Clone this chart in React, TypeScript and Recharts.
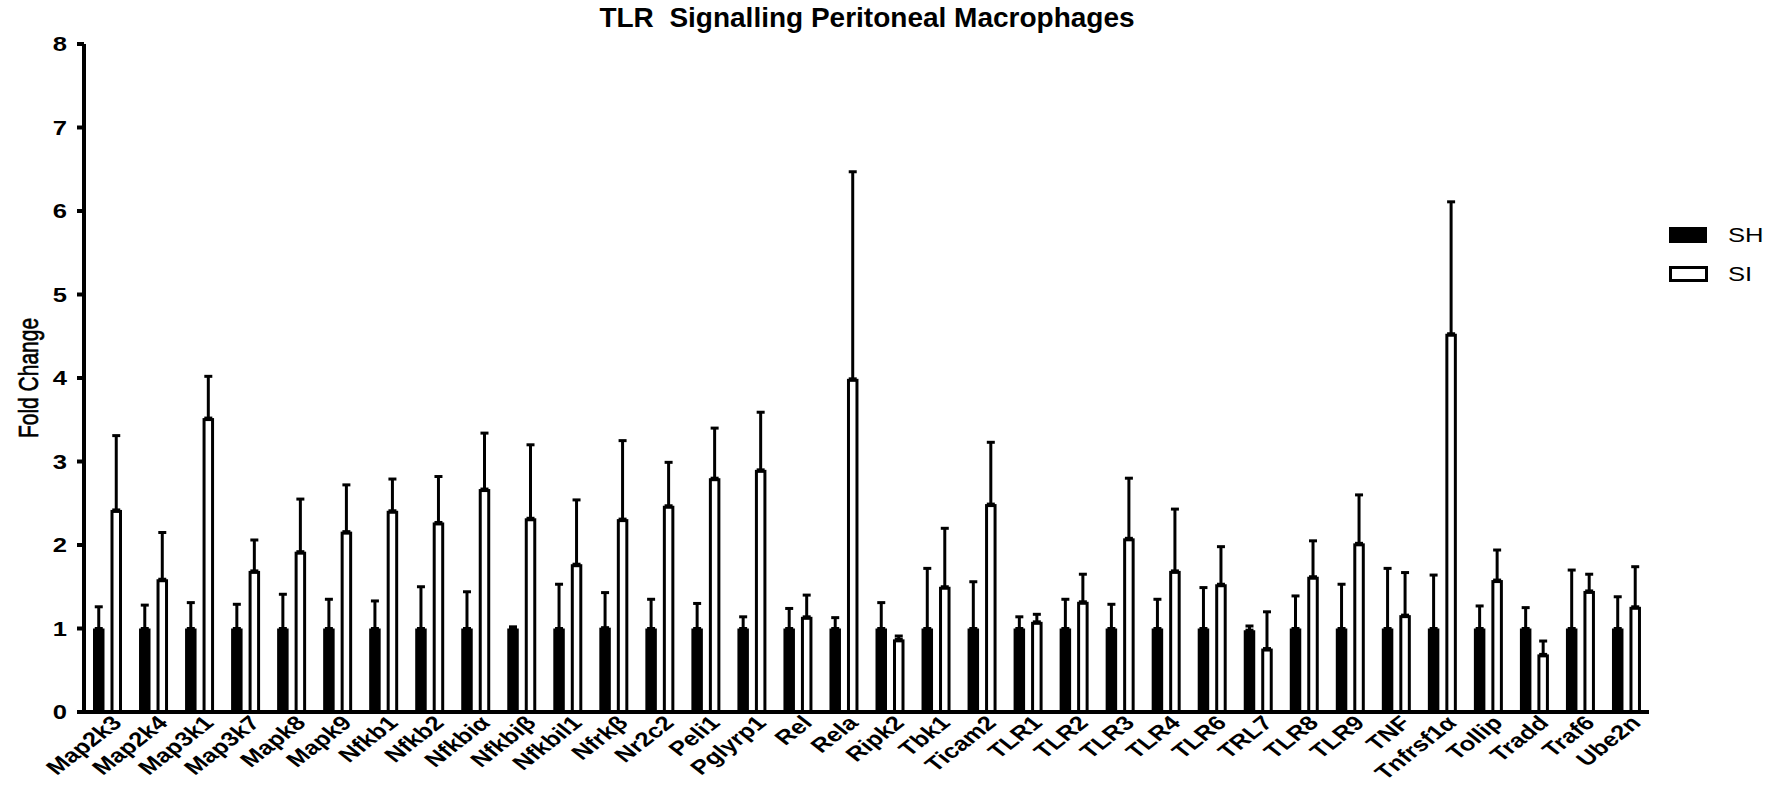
import React from 'react';
import { BarChart, Bar, XAxis, YAxis, ErrorBar } from 'recharts';

// fold change of each gene, SH (black) against SI (white), with the top of each SEM whisker
const genes = [
  'Map2k3', 'Map2k4', 'Map3k1', 'Map3k7', 'Mapk8', 'Mapk9', 'Nfkb1', 'Nfkb2', 'Nfkbiα', 'Nfkbiβ',
  'Nfkbil1', 'Nfrkβ', 'Nr2c2', 'Peli1', 'Pglyrp1', 'Rel', 'Rela', 'Ripk2', 'Tbk1', 'Ticam2',
  'TLR1', 'TLR2', 'TLR3', 'TLR4', 'TLR6', 'TRL7', 'TLR8', 'TLR9', 'TNF', 'Tnfrsf1α',
  'Tollip', 'Tradd', 'Traf6', 'Ube2n'
];
const shMean = [
  1, 1, 1, 1, 1, 1, 1, 1, 1, 1,
  1, 1.01, 1, 1, 1, 1, 1, 1, 1, 1,
  1, 1, 1, 1, 1, 0.98, 1, 1, 1, 1,
  1, 1, 1, 1
];
const shUpper = [
  1.26, 1.28, 1.31, 1.29, 1.41, 1.35, 1.33, 1.5, 1.44, 1.02,
  1.53, 1.43, 1.35, 1.3, 1.14, 1.24, 1.13, 1.31, 1.72, 1.56,
  1.14, 1.35, 1.29, 1.35, 1.49, 1.03, 1.39, 1.53, 1.72, 1.64,
  1.27, 1.25, 1.7, 1.38
];
const siMean = [
  2.42, 1.59, 3.52, 1.69, 1.92, 2.16, 2.41, 2.27, 2.67, 2.32,
  1.77, 2.31, 2.47, 2.8, 2.9, 1.14, 3.99, 0.87, 1.5, 2.49,
  1.08, 1.32, 2.08, 1.69, 1.53, 0.76, 1.62, 2.02, 1.16, 4.53,
  1.58, 0.69, 1.45, 1.26
];
const siUpper = [
  3.31, 2.15, 4.02, 2.06, 2.55, 2.72, 2.79, 2.82, 3.34, 3.2,
  2.54, 3.25, 2.99, 3.4, 3.59, 1.4, 6.47, 0.91, 2.2, 3.23,
  1.17, 1.65, 2.8, 2.43, 1.98, 1.2, 2.05, 2.6, 1.67, 6.11,
  1.94, 0.85, 1.65, 1.74
];
const yTicks = [0, 1, 2, 3, 4, 5, 6, 7, 8];

const FONT = '"Liberation Sans", Arial, Helvetica, sans-serif';
// the original figure was stretched sideways, so its lettering is wide
const STRETCH = 1.28;

// errors are drawn upward only: [below, above]
const data = genes.map((name, i) => ({
  name,
  SH: shMean[i],
  SI: siMean[i],
  shErr: [0, +(shUpper[i] - shMean[i]).toFixed(3)],
  siErr: [0, +(siUpper[i] - siMean[i]).toFixed(3)],
}));

const GeneTick = (props: any) => {
  const { x, y, payload } = props;
  return (
    <g transform={`translate(${x + 3},${y + 2}) scale(${STRETCH},1)`}>
      <text
        textAnchor="end"
        transform="rotate(-45)"
        dy="0.72em"
        fontFamily={FONT}
        fontWeight="bold"
        fontSize={20}
        fill="#000"
      >
        {payload.value}
      </text>
    </g>
  );
};

const ValueTick = (props: any) => {
  const { x, y, payload } = props;
  return (
    <g transform={`translate(${x},${y}) scale(${STRETCH},1)`}>
      <text textAnchor="end" dy="0.36em" fontFamily={FONT} fontWeight="bold" fontSize={20} fill="#000">
        {payload.value}
      </text>
    </g>
  );
};

const AxisTitle = (props: any) => {
  const { viewBox } = props;
  const cy = viewBox.y + viewBox.height / 2;
  return (
    <g transform={`translate(28,${cy}) scale(${STRETCH},1) rotate(-90)`}>
      <text
        textAnchor="middle"
        dy="0.36em"
        fontFamily={FONT}
        fontSize={21}
        fill="#000"
        stroke="#000"
        strokeWidth={0.5}
      >
        Fold Change
      </text>
    </g>
  );
};

// open bar: keep the 3px outline inside the band
const OpenBar = (props: any) => {
  const { x, y, width, height } = props;
  if (!height || height <= 0) return null;
  return (
    <rect
      x={x + 1.5}
      y={y + 1.5}
      width={Math.max(width - 3, 0)}
      height={Math.max(height - 1.5, 0)}
      fill="#fff"
      stroke="#000"
      strokeWidth={3}
    />
  );
};

const legendText: React.CSSProperties = {
  position: 'absolute',
  left: 1728,
  fontSize: 20,
  lineHeight: '24px',
  transform: `scaleX(${STRETCH})`,
  transformOrigin: 'left center',
};

export default function App() {
  return (
    <div
      style={{
        position: 'absolute',
        left: 0,
        top: 0,
        width: 1783,
        height: 786,
        background: '#fff',
        fontFamily: FONT,
      }}
    >
      <div
        style={{
          position: 'absolute',
          left: 0,
          top: 3,
          width: 1734,
          textAlign: 'center',
          fontSize: 28,
          lineHeight: '30px',
          fontWeight: 'bold',
          whiteSpace: 'pre',
        }}
      >
        {'TLR  Signalling Peritoneal Macrophages'}
      </div>

      <BarChart
        width={1783}
        height={786}
        data={data}
        margin={{ top: 44, right: 134, bottom: 0, left: 0 }}
        barSize={11.5}
        barGap={6}
      >
        <XAxis
          dataKey="name"
          interval={0}
          height={74}
          tickLine={false}
          tickSize={0}
          tickMargin={0}
          axisLine={{ stroke: '#000', strokeWidth: 4 }}
          tick={<GeneTick />}
        />
        <YAxis
          width={84}
          domain={[0, 8]}
          ticks={yTicks}
          interval={0}
          tickSize={7}
          tickMargin={10}
          axisLine={{ stroke: '#000', strokeWidth: 4 }}
          tickLine={{ stroke: '#000', strokeWidth: 4 }}
          tick={<ValueTick />}
          label={<AxisTitle />}
        />
        <Bar dataKey="SH" fill="#000" isAnimationActive={false}>
          <ErrorBar dataKey="shErr" direction="y" width={4} strokeWidth={3} stroke="#000" />
        </Bar>
        <Bar dataKey="SI" fill="#fff" shape={<OpenBar />} isAnimationActive={false}>
          <ErrorBar dataKey="siErr" direction="y" width={4} strokeWidth={3} stroke="#000" />
        </Bar>
      </BarChart>

      {/* legend */}
      <div style={{ position: 'absolute', left: 1669, top: 227, width: 38, height: 16, background: '#000' }} />
      <div style={{ ...legendText, top: 223 }}>SH</div>
      <div
        style={{
          position: 'absolute',
          left: 1669,
          top: 266,
          width: 39,
          height: 16,
          boxSizing: 'border-box',
          border: '3px solid #000',
          background: '#fff',
        }}
      />
      <div style={{ ...legendText, top: 262 }}>SI</div>
    </div>
  );
}
